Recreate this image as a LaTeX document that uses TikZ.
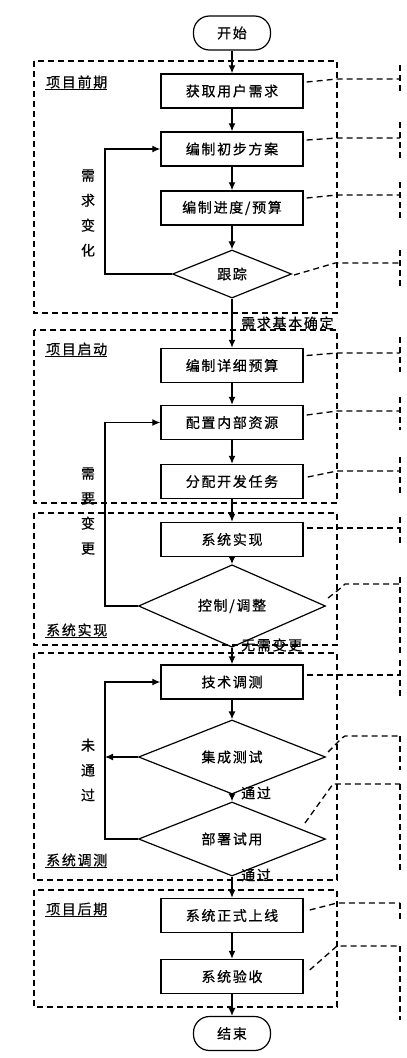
\documentclass[tikz,border=0pt]{standalone}
\usepackage{fontspec}
\setmainfont{Noto Sans CJK SC}[LetterSpace=12,FakeBold=0.6]
\usetikzlibrary{arrows.meta,shapes.geometric}
\begin{document}
\begin{tikzpicture}[x=1pt,y=-1pt,
  font=\fontsize{14}{16}\selectfont,
  proc/.style={draw,line width=1.4pt,minimum width=142pt,minimum height=34pt,inner sep=0pt},
  term/.style={draw,line width=1.2pt,rounded corners=16pt,minimum width=77pt,minimum height=34pt,inner sep=0pt},
  dec/.style={draw,diamond,line width=1.2pt,inner sep=0pt,minimum height=48pt},
  grp/.style={line width=1.3pt,dash pattern=on 6pt off 4pt},
  flow/.style={line width=1.3pt,-{Latex[length=8pt,width=7pt]}},
  co/.style={line width=1.3pt,dash pattern=on 6pt off 4pt,draw=black},
  glab/.style={anchor=west,inner sep=1pt},
  elab/.style={anchor=west,inner sep=0pt},
  vlab/.style={align=center,inner sep=0pt,font=\fontsize{14}{25}\selectfont}]
\useasboundingbox (0,0) rectangle (407,1058);

% group frames
\draw[grp] (34,61) rectangle (337,313);
\draw[grp] (34,330) rectangle (337,503);
\draw[grp] (34,513) rectangle (337,645);
\draw[grp] (34,653) rectangle (337,880);
\draw[grp] (34,890) rectangle (337,1007);

% group labels
\node[glab] (g1) at (45,82) {项目前期};
\node[glab] (g2) at (45,349) {项目启动};
\node[glab] (g3) at (45,630) {系统实现};
\node[glab] (g4) at (45,860) {系统调测};
\node[glab] (g5) at (45,909) {项目后期};
\foreach \g in {g1,g2,g3,g4,g5}
  \draw[line width=1.2pt] ([yshift=-2.5pt]\g.base west) -- ([yshift=-2.5pt,xshift=-1pt]\g.base east);

% nodes
\node[term] (start) at (232,33) {开始};
\node[proc] (a1) at (232,91) {获取用户需求};
\node[proc] (a2) at (232,149) {编制初步方案};
\node[proc] (a3) at (232,208) {编制进度/预算};
\node[dec,minimum width=119pt] (d1) at (232,274) {跟踪};
\node[proc] (b1) at (232,365.5) {编制详细预算};
\node[proc] (b2) at (232,422.5) {配置内部资源};
\node[proc] (b3) at (232,481.5) {分配开发任务};
\node[proc] (c1) at (232,539.5) {系统实现};
\node[dec,minimum width=187pt] (d2) at (232,606) {控制/调整};
\node[proc] (e1) at (232,682) {技术调测};
\node[dec,minimum width=187pt] (d3) at (232,757) {集成测试};
\node[dec,minimum width=187pt] (d4) at (232,839) {部署试用};
\node[proc] (f1) at (232,915.5) {系统正式上线};
\node[proc] (f2) at (232,976.5) {系统验收};
\node[term] (end) at (232,1033.5) {结束};

% main flow
\draw[flow] (start) -- (a1);
\draw[flow] (a1) -- (a2);
\draw[flow] (a2) -- (a3);
\draw[flow] (a3) -- (d1);
\draw[flow] (d1) -- (b1);
\draw[flow] (b1) -- (b2);
\draw[flow] (b2) -- (b3);
\draw[flow] (b3) -- (c1);
\draw[flow] (c1) -- (d2);
\draw[flow] (d2) -- (e1);
\draw[flow] (e1) -- (d3);
\draw[flow] (d3) -- (d4);
\draw[flow] (d4) -- (f1);
\draw[flow] (f1) -- (f2);
\draw[flow] (f2) -- (end);

% edge labels
\node[elab] (l1) at (241,323) {需求基本确定};
\node[elab] (l2) at (241,645) {无需变更};
\node[elab] (l3) at (241,793) {通过};
\node[elab] (l4) at (241,875) {通过};

% loops
\coordinate (lx) at (105,0);
\draw[flow] (d1.west) -- (d1.west -| lx) |- (a2.west);
\draw[flow] (d2.west) -- (d2.west -| lx) |- (b2.west);
\draw[flow] (d4.west) -- (d4.west -| lx) |- (e1.west);
\draw[flow] (d3.west) -- (d3.west -| lx);

% vertical labels
\node[vlab] (v1) at (88,213) {需\\求\\变\\化};
\node[vlab] (v2) at (88,511) {需\\要\\变\\更};
\node[vlab] (v3) at (88,770) {未\\通\\过};

% callout leaders
\draw[co] ([shift={(3,-9)}]a1.east) -- (337,79) -- (400,79);
\draw[co] (400,65) -- (400,93);
\draw[co] ([shift={(3,-9)}]a2.east) -- (337,138) -- (400,138);
\draw[co] (400,122) -- (400,158);
\draw[co] ([shift={(3,-10)}]a3.east) -- (337,195) -- (400,195);
\draw[co] (400,182) -- (400,220);
\draw[co] ([shift={(2,1)}]d1.east) -- (335,263) -- (400,263);
\draw[co] (400,250) -- (400,288);
\draw[co] ([shift={(3,-10)}]b1.east) -- (337,353) -- (400,353);
\draw[co] (400,337) -- (400,372);
\draw[co] ([shift={(3,-7.5)}]b2.east) -- (337,411) -- (400,411);
\draw[co] (400,397) -- (400,430);
\draw[co] ([shift={(4,-4.5)}]b3.east) -- (337,471) -- (400,471);
\draw[co] (400,457) -- (400,493);
\draw[co] ([shift={(3,-11.5)}]c1.east) -- (400,528);
\draw[co] (400,517) -- (400,543);
\draw[co] ([shift={(2,-8)}]d2.east) -- (342,587) -- (345,584) -- (400,584);
\draw[co] (400,577) -- (400,653);
\draw[co] ([shift={(3,-7)}]e1.east) -- (400,675);
\draw[co] (400,660) -- (400,697);
\draw[co] ([shift={(2,-5)}]d3.east) -- (342,738) -- (345,736) -- (400,736);
\draw[co] (400,736) -- (400,770);
\draw[co] ([shift={(73,-16)}]d4.center) -- (333,784) -- (400,784);
\draw[co] (400,784) -- (400,873);
\draw[co] ([shift={(6,-5.5)}]f1.east) -- (337,903) -- (400,903);
\draw[co] (400,903) -- (400,920);
\draw[co] ([shift={(6,-6.5)}]f2.east) -- (337,946) -- (400,946);
\draw[co] (400,946) -- (400,1020);
\end{tikzpicture}
\end{document}
